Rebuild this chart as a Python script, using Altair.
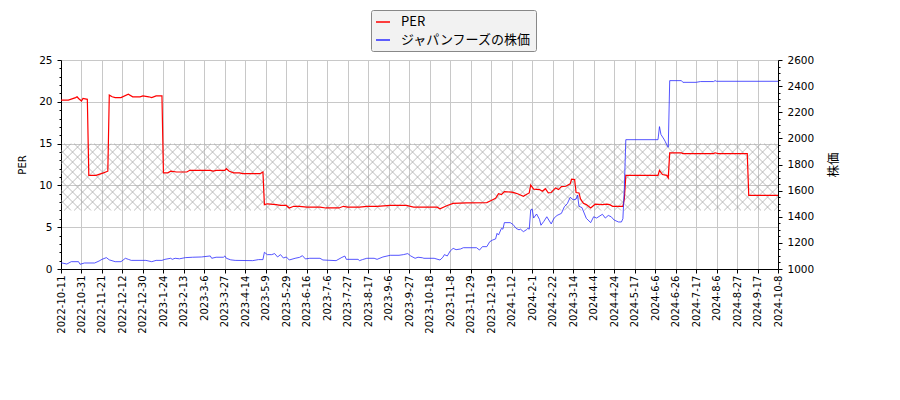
import numpy as np
import pandas as pd
import altair as alt

# x axis: trading-day index, one label every 14 days
X_LABELS = [
    "2022-10-11", "2022-10-31", "2022-11-21", "2022-12-12", "2022-12-30",
    "2023-1-24", "2023-2-13", "2023-3-6", "2023-3-27", "2023-4-14",
    "2023-5-9", "2023-5-29", "2023-6-16", "2023-7-6", "2023-7-27",
    "2023-8-17", "2023-9-6", "2023-9-27", "2023-10-18", "2023-11-8",
    "2023-11-29", "2023-12-19", "2024-1-12", "2024-2-1", "2024-2-22",
    "2024-3-14", "2024-4-4", "2024-4-24", "2024-5-17", "2024-6-6",
    "2024-6-26", "2024-7-17", "2024-8-6", "2024-8-27", "2024-9-17",
    "2024-10-8",
]
TICK_STEP = 14
X_MAX = TICK_STEP * (len(X_LABELS) - 1)

# PER (left axis)
PER_IDX = [
    0, 5, 10, 11, 12, 14, 15, 18, 19, 24, 29, 32, 33, 35, 37, 41, 46, 49,
    54, 56, 60, 62, 65, 69, 70, 73, 75, 79, 86, 88, 102, 104, 106, 112, 113,
    115, 118, 122, 124, 136, 138, 139, 141, 147, 150, 154, 156, 159, 163,
    168, 177, 181, 190, 193, 196, 204, 209, 216, 225, 236, 241, 257, 259,
    264, 268, 277, 291, 294, 297, 299, 301, 303, 308, 310, 312, 316, 318,
    320, 321, 322, 323, 327, 329, 331, 333, 335, 338, 340, 342, 345, 348,
    349, 351, 352, 354, 355, 357, 359, 362, 365, 370, 373, 375, 377, 384,
    385, 386, 408, 409, 411, 414, 415, 416, 424, 425, 446, 447, 449, 469,
    470, 490,
]
PER_VAL = [
    20.2, 20.2, 20.5, 20.6, 20.4, 20.1, 20.4, 20.3, 11.2, 11.2, 11.5, 11.7,
    20.8, 20.6, 20.5, 20.5, 20.9, 20.6, 20.6, 20.7, 20.6, 20.5, 20.7, 20.7,
    11.5, 11.5, 11.7, 11.6, 11.6, 11.8, 11.8, 11.7, 11.8, 11.8, 12.0, 11.7,
    11.5, 11.5, 11.4, 11.4, 11.6, 7.7, 7.8, 7.7, 7.6, 7.6, 7.3, 7.5, 7.5,
    7.4, 7.4, 7.3, 7.3, 7.5, 7.4, 7.4, 7.5, 7.5, 7.6, 7.6, 7.4, 7.4, 7.2,
    7.6, 7.85, 7.9, 7.95, 8.2, 8.45, 9.0, 8.9, 9.25, 9.2, 9.1, 9.0, 8.7,
    8.9, 9.1, 10.05, 9.8, 9.55, 9.5, 9.3, 9.6, 9.1, 9.15, 9.7, 9.5, 9.85,
    9.9, 10.2, 10.75, 10.7, 9.15, 9.1, 8.4, 7.85, 7.7, 7.3, 7.75, 7.7,
    7.75, 7.7, 7.5, 7.5, 8.4, 11.2, 11.2, 11.8, 11.3, 11.2, 10.9, 13.9,
    13.9, 13.8, 13.8, 13.9, 13.8, 13.8, 8.8, 8.8,
]

# share price (right axis)
PRICE_IDX = [
    0, 4, 7, 12, 13, 16, 23, 26, 28, 31, 33, 37, 41, 44, 46, 48, 58, 62,
    65, 69, 71, 75, 76, 78, 81, 85, 90, 96, 102, 103, 106, 111, 112, 113,
    116, 119, 131, 135, 138, 139, 141, 144, 146, 148, 150, 152, 154, 156,
    160, 163, 165, 167, 170, 177, 179, 188, 192, 194, 195, 203, 204, 206,
    209, 214, 216, 220, 225, 231, 234, 237, 239, 242, 244, 247, 248, 255,
    259, 261, 262, 264, 266, 268, 270, 273, 275, 284, 286, 288, 291, 293,
    295, 297, 298, 299, 301, 302, 303, 307, 309, 311, 313, 314, 316, 318,
    319, 320, 321, 322, 323, 325, 327, 328, 330, 332, 335, 337, 339, 342,
    344, 346, 348, 350, 352, 353, 354, 356, 359, 362, 364, 366, 370, 372,
    374, 376, 378, 381, 383, 384, 385, 386, 408, 409, 410, 412, 413, 414,
    415, 416, 424, 425, 434, 437, 446, 447, 448, 490,
]
PRICE_VAL = [
    1048, 1038, 1056, 1056, 1036, 1046, 1046, 1061, 1074, 1087, 1070, 1056,
    1056, 1082, 1074, 1066, 1066, 1056, 1066, 1066, 1074, 1082, 1074, 1082,
    1078, 1087, 1090, 1092, 1100, 1082, 1090, 1090, 1100, 1082, 1070, 1066,
    1064, 1072, 1072, 1128, 1110, 1110, 1118, 1092, 1110, 1084, 1092, 1069,
    1082, 1089, 1102, 1077, 1082, 1082, 1069, 1064, 1089, 1099, 1074, 1074,
    1064, 1072, 1082, 1082, 1074, 1092, 1105, 1105, 1110, 1118, 1100, 1082,
    1090, 1086, 1082, 1082, 1069, 1090, 1110, 1100, 1138, 1158, 1148, 1153,
    1163, 1163, 1145, 1171, 1171, 1209, 1222, 1230, 1273, 1260, 1311, 1305,
    1355, 1355, 1340, 1311, 1300, 1305, 1286, 1300, 1311, 1305, 1452, 1460,
    1390, 1421, 1380, 1335, 1365, 1400, 1345, 1390, 1410, 1426, 1477, 1500,
    1549, 1530, 1535, 1566, 1480, 1470, 1388, 1355, 1400, 1390, 1419, 1390,
    1410, 1400, 1375, 1360, 1360, 1385, 1620, 1990, 1990, 2090, 2030, 1995,
    1975, 1950, 1932, 2442, 2442, 2429, 2429, 2435, 2435, 2442, 2437, 2437,
]

PER_NAME = "PER"
PRICE_NAME = "ジャパンフーズの株価"
BAND = [7, 15]

W, H = 717, 209
PER_MAX = 25

per_df = pd.DataFrame({"idx": PER_IDX, "PER": PER_VAL, "series": PER_NAME})
price_df = pd.DataFrame({"idx": PRICE_IDX, "price": PRICE_VAL, "series": PRICE_NAME})

# cross hatch of the 7-15 band, 45 degree segments in data units
px_per_idx = W / X_MAX
px_per_unit = H / PER_MAX
band_w = (BAND[1] - BAND[0]) * px_per_unit / px_per_idx
step = 10 / px_per_idx
starts = np.arange(-band_w, X_MAX + step, step)
n = len(starts)
hatch_df = pd.DataFrame({
    "x": np.concatenate([starts, starts]),
    "x2": np.concatenate([starts + band_w, starts + band_w]),
    "y": [BAND[0]] * n + [BAND[1]] * n,
    "y2": [BAND[1]] * n + [BAND[0]] * n,
})

js_labels = "[" + ",".join(f"'{s}'" for s in X_LABELS) + "]"
x_scale = alt.Scale(domain=[0, X_MAX], nice=False, zero=False)
x_axis = alt.Axis(
    values=list(range(0, X_MAX + 1, TICK_STEP)),
    labelExpr=f"{js_labels}[round(datum.value / {TICK_STEP})]",
    labelAngle=270,
    labelOverlap=False,
    labelPadding=2,
    tickSize=4,
    title=None,
)

per_scale = alt.Scale(domain=[0, PER_MAX], nice=False, zero=False)
per_axis = alt.Axis(
    values=list(range(0, PER_MAX + 1)),
    labelExpr="datum.value % 5 === 0 ? datum.label : ''",
    labelOverlap=False,
    labelFontSize=10.5,
    labelPadding=5,
    tickSize={"condition": {"test": "datum.value % 5 === 0", "value": 4}, "value": 2},
    gridOpacity={"condition": {"test": "datum.value % 5 === 0", "value": 1}, "value": 0},
    title="PER",
    titlePadding=11,
)

price_scale = alt.Scale(domain=[1000, 2600], nice=False, zero=False)
price_axis = alt.Axis(
    orient="right",
    values=list(range(1000, 2601, 50)),
    format="d",
    labelExpr="datum.value % 200 === 0 ? datum.label : ''",
    labelOverlap=False,
    labelFontSize=10.5,
    labelPadding=5,
    tickSize={"condition": {"test": "datum.value % 200 === 0", "value": 4}, "value": 2},
    grid=False,
    title="株価",
    titleFont="Noto Sans CJK JP",
    titleFontSize=12.5,
    titleAngle=270,
    titlePadding=27,
)

color_scale = alt.Scale(domain=[PER_NAME, PRICE_NAME], range=["#ff0000", "#2a2aff"])
legend = alt.Legend(
    title=None,
    orient="none",
    legendX=310,
    legendY=-50,
    symbolType="stroke",
    symbolSize=196,
    symbolStrokeWidth=1.5,
    labelFont="Noto Sans CJK JP",
    labelFontSize=13,
    labelOffset=10,
    fillColor="#f2f2f2",
    strokeColor="#888888",
    cornerRadius=2,
    padding=4,
    rowPadding=3,
)

hatch = alt.Chart(hatch_df).mark_rule(clip=True, color="#a0a0a0", strokeWidth=0.7).encode(
    x=alt.X("x:Q", scale=x_scale, axis=x_axis),
    x2="x2:Q",
    y=alt.Y("y:Q", scale=per_scale, axis=per_axis),
    y2="y2:Q",
)

per_line = alt.Chart(per_df).mark_line(strokeWidth=1.2).encode(
    x=alt.X("idx:Q", scale=x_scale, axis=x_axis),
    y=alt.Y("PER:Q", scale=per_scale, axis=per_axis),
    color=alt.Color("series:N", scale=color_scale, legend=legend),
)

price_line = alt.Chart(price_df).mark_line(strokeWidth=0.8).encode(
    x=alt.X("idx:Q", scale=x_scale, axis=x_axis),
    y=alt.Y("price:Q", scale=price_scale, axis=price_axis),
    color=alt.Color("series:N", scale=color_scale, legend=legend),
)

chart = (
    alt.layer(alt.layer(hatch, per_line), price_line)
    .resolve_scale(y="independent")
    .properties(
        width=W,
        height=H,
        autosize=alt.AutoSizeParams(type="none"),
        padding={"left": 53, "top": 52, "right": 100, "bottom": 90},
    )
    .configure_view(strokeWidth=0)
    .configure_axis(
        labelFont="DejaVu Sans",
        labelFontSize=10,
        labelColor="black",
        titleFont="DejaVu Sans",
        titleFontSize=10,
        titleFontWeight="normal",
        titleColor="black",
        domainColor="black",
        tickColor="black",
        gridColor="#c8c8c8",
    )
)

chart.save("out.html", embed_options={"renderer": "svg", "actions": False})
